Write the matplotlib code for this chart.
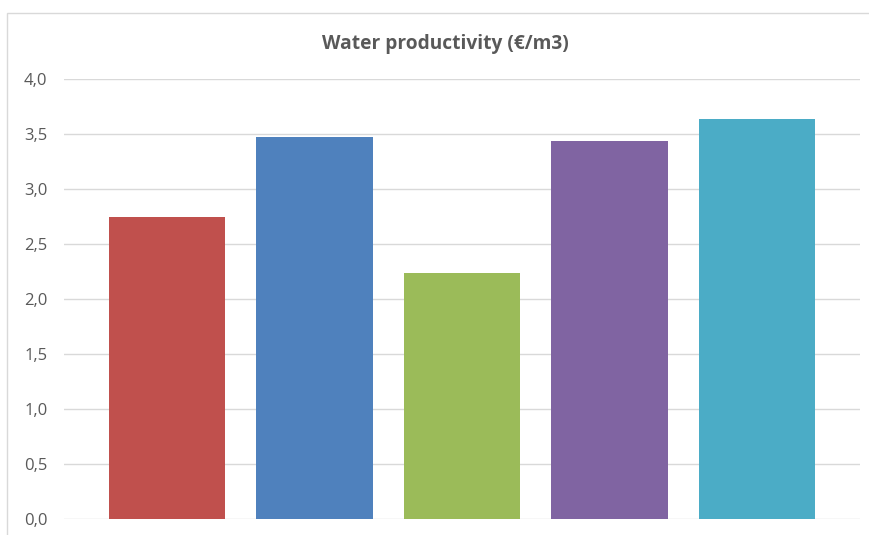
import matplotlib.pyplot as plt
from matplotlib.patches import Rectangle
from matplotlib.ticker import FuncFormatter

# bar values, one per scenario (no category labels shown on the axis)
scenarios = ["S1", "S2", "S3", "S4", "S5"]
productivity = [2.75, 3.47, 2.24, 3.44, 3.64]
bar_colors = ["#C0504D", "#4F81BD", "#9BBB59", "#8064A2", "#4BACC6"]
y_ticks = [0.0, 0.5, 1.0, 1.5, 2.0, 2.5, 3.0, 3.5, 4.0]

W, H = 869, 535
fig = plt.figure(figsize=(W / 100, H / 100), dpi=100)
plt.rcParams["font.family"] = ["Open Sans", "DejaVu Sans"]

# light chart-area frame (only top and left edges fall inside the canvas)
fig.patches.append(Rectangle((7 / W, -0.1), 1.0, 1.1 - 13 / H, transform=fig.transFigure,
                             fill=False, edgecolor="#D9D9D9", linewidth=1.0))

ax = fig.add_axes([64 / W, 16 / H, (860 - 64) / W, (519 - 79) / H])
x = list(range(len(scenarios)))
ax.bar(x, productivity, width=0.79, color=bar_colors, zorder=3)

ax.set_xlim(-0.7, 4.7)
ax.set_ylim(0, 4.0)
ax.set_yticks(y_ticks)
ax.yaxis.set_major_formatter(FuncFormatter(lambda v, p: f"{v:.1f}".replace(".", ",")))
ax.set_xticks([])
ax.tick_params(axis="y", length=0, pad=12, labelsize=12, labelcolor="#595959")
ax.grid(axis="y", color="#D9D9D9", linewidth=1.0, zorder=0)
for s in ax.spines.values():
    s.set_visible(False)

fig.text(445 / W, 1 - 44 / H, "Water productivity (€/m3)", ha="center", va="center",
         fontsize=13.8, fontweight="bold", color="#595959")

fig.savefig("out.png", dpi=100)
